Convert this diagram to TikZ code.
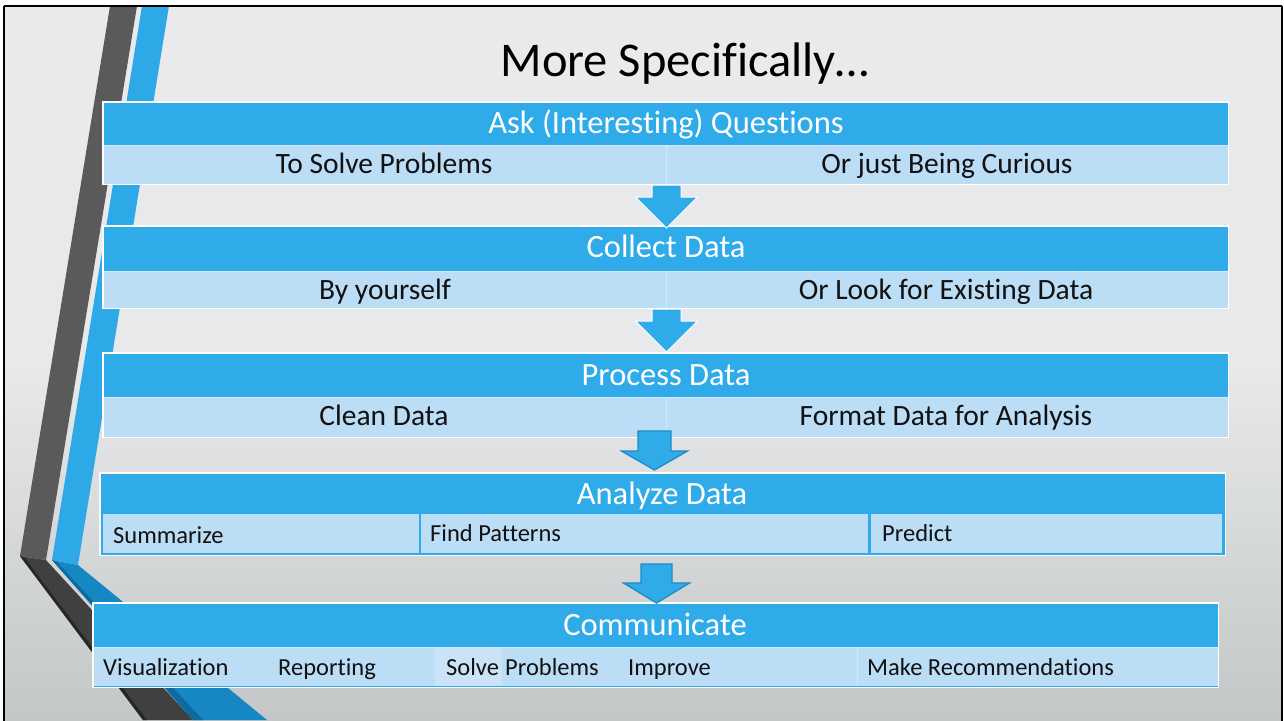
\documentclass[tikz,border=0pt]{standalone}
\usepackage{fontspec}
\setmainfont{Carlito}[Ligatures=NoCommon]
\usetikzlibrary{calc}
\definecolor{hdr}{HTML}{2FABE9}
\definecolor{lite}{HTML}{BBDEF6}
\definecolor{lite2}{HTML}{CBE3F7}
\definecolor{sep}{HTML}{D3E8F8}
\definecolor{dgray}{HTML}{5A5A5A}
\definecolor{dgray2}{HTML}{404040}
\definecolor{dgray3}{HTML}{262626}
\definecolor{sblue}{HTML}{2EA9E8}
\definecolor{sblue2}{HTML}{1787C4}
\definecolor{sblue3}{HTML}{0F6A9E}
\definecolor{adark}{HTML}{1F8AC6}
\definecolor{bgtop}{HTML}{E9EAEB}
\definecolor{bgbot}{HTML}{C3C7C8}
\definecolor{ink}{HTML}{111111}
\newcommand\myBlockArrow[8]{% style, cx, top, headY, tip, shaft half, head half
  \draw[#1] (#2-#6,#3) -- (#2+#6,#3) -- (#2+#6,#4) -- (#2+#7,#4) -- (#2,#5)
    -- (#2-#7,#4) -- (#2-#6,#4) -- cycle;}
\begin{document}
\begin{tikzpicture}[x=1pt,y=-1pt,
  boxhdr/.style={fill=hdr, draw=none, inner sep=0pt, anchor=north west},
  boxline/.style={draw=white, line width=1.3pt},
  cellfill/.style={fill=lite},
  hdrtext/.style={text=white, font=\fontsize{32.5}{34}\selectfont, inner sep=0pt, anchor=base},
  rowtext/.style={text=ink, font=\fontsize{29.5}{31}\selectfont, inner sep=0pt, anchor=base},
  smalltext/.style={text=ink, font=\fontsize{24.5}{26}\selectfont, inner sep=0pt, anchor=base west},
  arrowA/.style={fill=hdr, draw=white, line width=1pt, line join=miter},
  arrowB/.style={fill=hdr, draw=adark, line width=1.3pt, line join=miter},
  sepline/.style={draw=sep, line width=1pt}]
\useasboundingbox (0,0) rectangle (1284,720);
% background
\fill[white] (0,0) rectangle (1284,720);
\shade[top color=bgtop, bottom color=bgbot, middle color=bgtop!97!bgbot] (4,6) rectangle (1282,720);
% left decoration
\fill[dgray2] (20,556) -- (46,560) -- (193,720) -- (143,720) -- cycle;
\fill[dgray3] (20,556) -- (24,557) -- (147,720) -- (143,720) -- cycle;
\fill[dgray] (110,6) -- (137,6) -- (46,560) -- (20,556) -- cycle;
\fill[sblue2] (52,560) -- (78,565) -- (267,720) -- (193,720) -- cycle;
\fill[sblue3] (52,560) -- (56,561) -- (203,720) -- (193,720) -- cycle;
\fill[sblue] (142,6) -- (169,6) -- (78,565) -- (52,560) -- cycle;
% frame
\draw[black, line width=2.5pt] (4,6) -- (4,722) (1282,6) -- (1282,722) (4,6) -- (1282,6);
% title
\node[text=black, font=\fontsize{48.5}{52}\selectfont, inner sep=0pt, anchor=base] (title) at (685,76) {More Specifically…};
% ---- Box 1
\node[boxhdr, minimum width=1125pt, minimum height=82pt] (box1) at (103,102) {};
\fill[cellfill] (103,145) rectangle (666,184);
\fill[cellfill] (666,145) rectangle (1228,184);
\draw[sepline] (666.5,145) -- (666.5,184);
\draw[sepline] (103,145) -- (1228,145);
\draw[boxline] (box1.north west) rectangle (box1.south east);
\node[hdrtext] (h1) at (666,133) {Ask (Interesting) Questions};
\node[rowtext] (r1a) at (384,173) {To Solve Problems};
\node[rowtext] (r1b) at (947,173) {Or just Being Curious};
% ---- Box 2
\node[boxhdr, minimum width=1125pt, minimum height=82pt] (box2) at (103,226) {};
\fill[cellfill] (103,271) rectangle (1228,308);
\draw[sepline] (666.5,271) -- (666.5,308);
\draw[sepline] (103,271) -- (1228,271);
\draw[boxline] (box2.north west) rectangle (box2.south east);
\node[hdrtext] (h2) at (666,257) {Collect Data};
\node[rowtext] (r2a) at (385,299) {By yourself};
\node[rowtext] (r2b) at (946,299) {Or Look for Existing Data};
% ---- Box 3
\node[boxhdr, minimum width=1125pt, minimum height=84pt] (box3) at (103,353) {};
\fill[cellfill] (103,397) rectangle (1228,437);
\draw[sepline] (666.5,397) -- (666.5,437);
\draw[sepline] (103,397) -- (1228,397);
\draw[boxline] (box3.north west) rectangle (box3.south east);
\node[hdrtext] (h3) at (666,385) {Process Data};
\node[rowtext] (r3a) at (384,425) {Clean Data};
\node[rowtext] (r3b) at (946,425) {Format Data for Analysis};
% ---- Box 4
\node[boxhdr, minimum width=1125pt, minimum height=82pt] (box4) at (100,473) {};
\fill[cellfill] (103,514) rectangle (419,553);
\fill[cellfill] (421,514) rectangle (868,553);
\fill[cellfill] (871,514) rectangle (1222,553);
\draw[boxline] (box4.north west) rectangle (box4.south east);
\node[hdrtext] (h4) at (662,504) {Analyze Data};
\node[smalltext] (r4a) at (113,543) {Summarize};
\node[smalltext] (r4b) at (430,541) {Find Patterns};
\node[smalltext] (r4c) at (882,541) {Predict};
% ---- Box 5
\node[boxhdr, minimum width=1125pt, minimum height=84pt] (box5) at (93,603) {};
\fill[cellfill] (93,647) rectangle (1218,686);
\fill[lite2] (435,648) rectangle (502,686);
\draw[sepline] (857.5,648) -- (857.5,686);
\draw[sepline] (93,647.5) -- (1218,647.5);
\draw[boxline] (box5.north west) rectangle (box5.south east);
\node[hdrtext] (h5) at (655,635) {Communicate};
\node[smalltext] (r5a) at (103,675) {Visualization};
\node[smalltext] (r5b) at (278,675) {Reporting};
\node[smalltext] (r5c) at (446,675) {Solve};
\node[smalltext] (r5d) at (505,675) {Problems};
\node[smalltext] (r5e) at (628,675) {Improve};
\node[smalltext] (r5f) at (867,675) {Make Recommendations};
% ---- arrows
\myBlockArrow{arrowA}{666.5}{185}{197}{228}{14.5}{31}{}
\myBlockArrow{arrowA}{666.5}{309}{321}{352}{14.5}{31}{}
\myBlockArrow{arrowB}{654.5}{431}{451}{470}{16.5}{33}{}
\myBlockArrow{arrowB}{656.5}{564}{583}{603}{15.5}{33}{}
\end{tikzpicture}
\end{document}
